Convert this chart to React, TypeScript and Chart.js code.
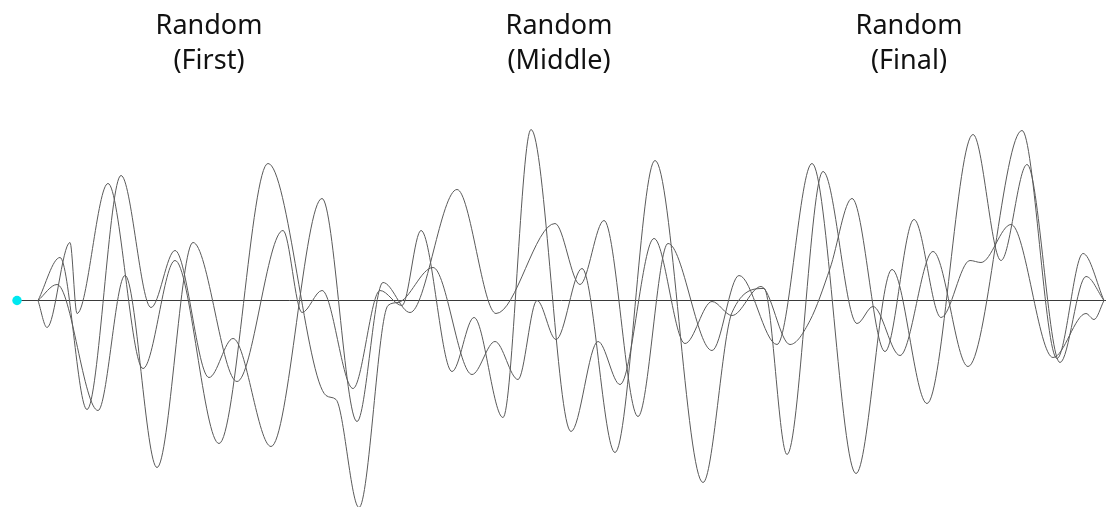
import { useEffect, useRef } from "react";
import { Chart, registerables } from "chart.js";

Chart.register(...registerables);

// Title labels along the top and where they sit on the x scale
const TITLES: string[][] = [
  ["Random", "(First)"],
  ["Random", "(Middle)"],
  ["Random", "(Final)"],
];
const TITLE_AT = [171, 521, 871];

// Series 1 (sample position, value)
const S1_X = [0, 9, 32, 39, 70, 105, 137, 181, 230, 288, 298, 321, 350, 360, 395, 434, 457, 480, 499, 518, 544, 577, 617, 665, 694, 726, 749, 785, 819, 835, 862, 895, 930, 984, 1019, 1045, 1066];
const S1_Y = [0, -27, 58, -13, 117, -68, 40, -143, 137, -95, -99, -207, -5, -2, 33, -74, -41, -79, 0, -39, 32, -152, 140, -182, -12, 12, -154, 129, -23, -6, -55, 49, -66, 170, -58, 47, 0];

// Series 2
const S2_X = [0, 22, 49, 83, 113, 137, 171, 195, 233, 284, 319, 345, 372, 419, 458, 517, 542, 566, 600, 630, 674, 701, 739, 774, 818, 854, 889, 935, 963, 989, 1022, 1048, 1066];
const S2_Y = [0, 43, -109, 125, -7, 50, -77, -38, -146, 102, -121, 18, -12, 111, -13, 77, 16, 80, -116, 57, -50, 25, -44, 137, -173, 31, -103, 166, 40, 136, -62, 24, 0];

// Series 3
const S3_X = [0, 19, 60, 87, 119, 155, 199, 245, 264, 284, 315, 342, 364, 383, 414, 436, 465, 493, 533, 560, 582, 616, 647, 674, 694, 723, 752, 772, 792, 814, 847, 876, 903, 932, 943, 973, 1015, 1048, 1056, 1066];
const S3_Y = [0, 16, -110, 25, -167, 58, -81, 70, -12, 10, -88, 10, -5, 70, -71, -17, -117, 171, -131, -41, -84, 62, -43, -1, -15, 14, -44, -20, 32, 102, -51, 81, -17, 40, 38, 76, -57, -13, -19, 0];

// Zero line and its start marker
const ZERO_X = [-21, 1068];
const START_X = [-21];

const X_MIN = -38;
const X_MAX = 1068;
const Y_MIN = -206.5;
const Y_MAX = 210.5;

const CURVE_COLOR = "#5a5a5a";

export default function App() {
  const ref = useRef<HTMLCanvasElement | null>(null);

  useEffect(() => {
    document.body.style.margin = "0";
    const canvas = ref.current;
    if (!canvas) return;

    const pts = (xs: number[], ys: number[]) => xs.map((x, i) => ({ x, y: ys[i] }));
    const curve = (label: string, xs: number[], ys: number[]) => ({
      label,
      data: pts(xs, ys),
      borderColor: CURVE_COLOR,
      borderWidth: 1,
      pointRadius: 0,
      cubicInterpolationMode: "monotone" as const,
      fill: false,
    });

    const chart = new Chart(canvas, {
      type: "line",
      data: {
        datasets: [
          {
            label: "start",
            data: START_X.map((x) => ({ x, y: 0 })),
            showLine: false,
            pointRadius: 4.7,
            pointBackgroundColor: "#00e8f0",
            pointBorderColor: "#00e8f0",
            pointBorderWidth: 0,
          },
          curve("Series 1", S1_X, S1_Y),
          curve("Series 2", S2_X, S2_Y),
          curve("Series 3", S3_X, S3_Y),
          {
            label: "zero",
            data: ZERO_X.map((x) => ({ x, y: 0 })),
            borderColor: "#3a3a3a",
            borderWidth: 1,
            pointRadius: 0,
          },
        ],
      },
      options: {
        animation: false,
        responsive: false,
        layout: { padding: 0, autoPadding: false },
        plugins: {
          legend: { display: false },
          tooltip: { enabled: false },
        },
        scales: {
          x: { type: "linear", min: X_MIN, max: X_MAX, display: false },
          y: { type: "linear", min: Y_MIN, max: Y_MAX, display: false },
          top: {
            type: "linear",
            position: "top",
            axis: "x",
            min: X_MIN,
            max: X_MAX,
            grid: { display: false, drawTicks: false },
            border: { display: false },
            afterBuildTicks: (s: any) => {
              s.ticks = TITLE_AT.map((v) => ({ value: v }));
            },
            afterFit: (s: any) => {
              s.height = 90;
            },
            ticks: {
              autoSkip: false,
              maxRotation: 0,
              minRotation: 0,
              padding: 12,
              color: "#111111",
              font: { family: "'Noto Sans', sans-serif", size: 27, lineHeight: 1.27 },
              callback: (_v: any, i: number) => TITLES[i],
            },
          } as any,
        },
      },
    });

    return () => chart.destroy();
  }, []);

  return <canvas ref={ref} width={1106} height={507} style={{ display: "block" }} />;
}
